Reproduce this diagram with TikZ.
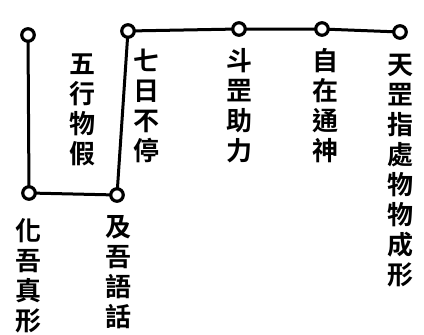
\documentclass[tikz,border=0pt]{standalone}
\usepackage{fontspec}
\newfontfamily\cjk{Noto Sans CJK TC}[BoldFont={* Bold}]
\tikzset{
  dot/.style={circle,draw,line width=3.2pt,minimum size=12.5pt,inner sep=0pt,fill=white},
  conn/.style={line width=3pt},
  vlabel/.style={font=\cjk\bfseries\fontsize{26}{30}\selectfont,align=center,inner sep=0pt}
}
\begin{document}
\begin{tikzpicture}[x=1pt,y=-1pt]
\useasboundingbox (0,0) rectangle (424,335);
\coordinate (pA) at (28,35);
\coordinate (pB) at (128,31);
\coordinate (pC) at (239,29);
\coordinate (pD) at (322,29);
\coordinate (pE) at (400,32);
\coordinate (pF) at (29,193);
\coordinate (pG) at (117,195);
\draw[conn] (pA) -- (pF) -- (pG) -- (pB) -- (pC) -- (pD) -- (pE);
\foreach \p in {pA,pB,pC,pD,pE,pF,pG} \node[dot] (n\p) at (\p) {};
\node[vlabel] (l1) at (82,110) {五\\行\\物\\假};
\node[vlabel] (l2) at (146,106) {七\\日\\不\\停};
\node[vlabel] (l3) at (239,106) {斗\\罡\\助\\力};
\node[vlabel] (l4) at (325,106) {自\\在\\通\\神};
\node[vlabel] (l5) at (400,171) {天\\罡\\指\\處\\物\\物\\成\\形};
\node[vlabel] (l6) at (29,276) {化\\吾\\真\\形};
\node[vlabel] (l7) at (118,272) {及\\吾\\語\\話};
\end{tikzpicture}
\end{document}
